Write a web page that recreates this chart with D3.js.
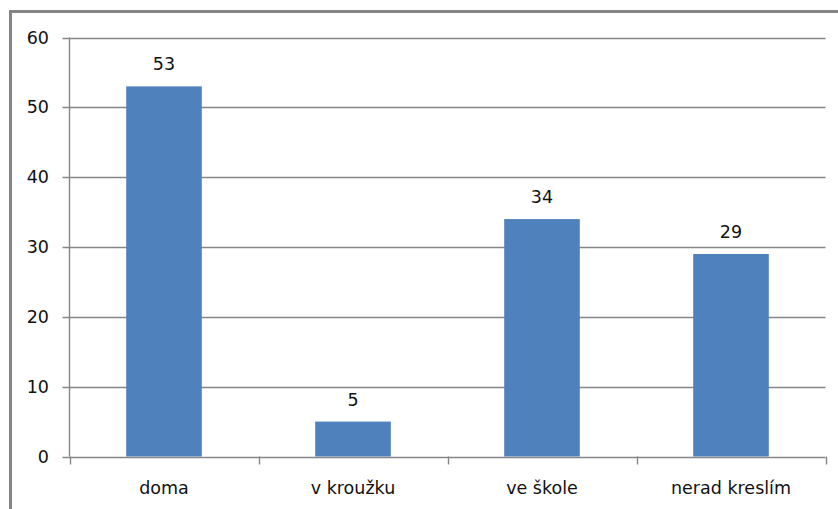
<!DOCTYPE html>
<html>
<head>
<meta charset="utf-8">
<script src="https://cdn.jsdelivr.net/npm/d3@7"></script>
<style>
  html, body { margin: 0; padding: 0; background: #fff; }
  svg { display: block; }
  text { font-family: "DejaVu Sans", "Liberation Sans", sans-serif; fill: #111; }
</style>
</head>
<body>
<svg id="chart" width="838" height="509"></svg>
<script>
// Kde děti kreslí – počty odpovědí
const categories = ["doma", "v kroužku", "ve škole", "nerad kreslím"];
const values = [53, 5, 34, 29];
const yTicks = [0, 10, 20, 30, 40, 50, 60];

const W = 838, H = 509;
const plot = { left: 69.5, right: 825.5, top: 37.5, bottom: 456.5 };
const gridColor = "#868686";
const barColor = "#4F81BD";
const fontSize = 17.5;

const svg = d3.select("#chart");

// outer chart frame
svg.append("rect")
  .attr("x", 10.5).attr("y", 11.5)
  .attr("width", W).attr("height", H)
  .attr("fill", "none")
  .attr("stroke", "#858585")
  .attr("stroke-width", 3);

const x = d3.scaleBand()
  .domain(categories)
  .range([plot.left, plot.right])
  .paddingInner(0).paddingOuter(0);

const y = d3.scaleLinear()
  .domain([0, 60])
  .range([plot.bottom, plot.top]);

// horizontal gridlines with small outside ticks
const gy = svg.append("g").attr("class", "grid");
gy.selectAll("line")
  .data(yTicks)
  .join("line")
  .attr("x1", plot.left - 7)
  .attr("x2", plot.right)
  .attr("y1", d => Math.round(y(d)) + 0.5)
  .attr("y2", d => Math.round(y(d)) + 0.5)
  .attr("stroke", gridColor)
  .attr("stroke-width", 1.4);

// y axis line
svg.append("line")
  .attr("x1", plot.left).attr("x2", plot.left)
  .attr("y1", y(60)).attr("y2", y(0))
  .attr("stroke", gridColor).attr("stroke-width", 1.4);

// y tick labels
svg.append("g").selectAll("text")
  .data(yTicks)
  .join("text")
  .attr("x", 49)
  .attr("y", d => y(d))
  .attr("dy", "0.35em")
  .attr("text-anchor", "end")
  .attr("font-size", fontSize)
  .text(d => d);

// bars
const barW = x.bandwidth() * 0.4;
svg.append("g").selectAll("rect")
  .data(values)
  .join("rect")
  .attr("x", (d, i) => x(categories[i]) + (x.bandwidth() - barW) / 2)
  .attr("y", d => y(d))
  .attr("width", barW)
  .attr("height", d => y(0) - y(d))
  .attr("fill", barColor);

// x axis tick marks at category boundaries
const bounds = categories.map(c => x(c)).concat([plot.right]);
svg.append("g").selectAll("line")
  .data(bounds)
  .join("line")
  .attr("x1", d => Math.round(d) + 0.5)
  .attr("x2", d => Math.round(d) + 0.5)
  .attr("y1", y(0))
  .attr("y2", y(0) + 8)
  .attr("stroke", gridColor).attr("stroke-width", 1.4);

// category labels
svg.append("g").selectAll("text")
  .data(categories)
  .join("text")
  .attr("x", d => x(d) + x.bandwidth() / 2)
  .attr("y", 494)
  .attr("text-anchor", "middle")
  .attr("font-size", fontSize)
  .text(d => d);

// value labels above bars
svg.append("g").selectAll("text")
  .data(values)
  .join("text")
  .attr("x", (d, i) => x(categories[i]) + x.bandwidth() / 2)
  .attr("y", d => y(d) - 16)
  .attr("text-anchor", "middle")
  .attr("font-size", fontSize)
  .text(d => d);
</script>
</body>
</html>
